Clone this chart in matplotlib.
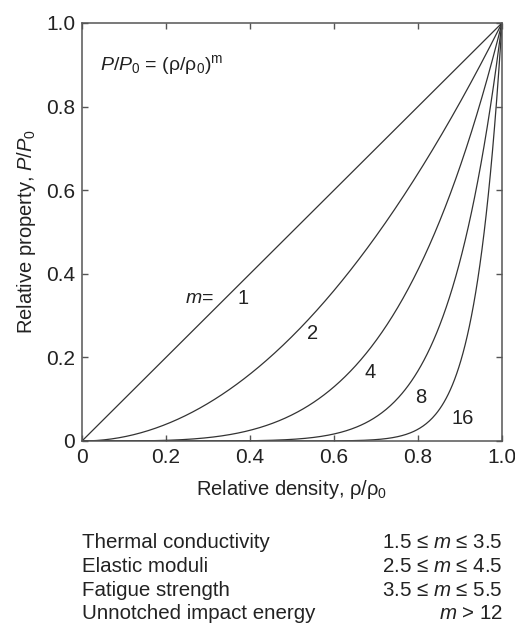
import numpy as np
import matplotlib
matplotlib.use("Agg")
import matplotlib.pyplot as plt

plt.rcParams['font.family'] = ['Liberation Sans', 'DejaVu Sans']
plt.rcParams['mathtext.fontset'] = 'custom'
plt.rcParams['mathtext.rm'] = 'Liberation Sans'
plt.rcParams['mathtext.it'] = 'Liberation Sans:italic'

# exponents m of P/P0 = (rho/rho0)^m
exponents = [1, 2, 4, 8, 16]
curve_labels = ['1', '2', '4', '8', '16']
ticks = [0, 0.2, 0.4, 0.6, 0.8, 1.0]
tick_labels = ['0', '0.2', '0.4', '0.6', '0.8', '1.0']

properties = ['Thermal conductivity', 'Elastic moduli', 'Fatigue strength',
              'Unnotched impact energy']
m_ranges = [r'1.5 ≤ $\it{m}$ ≤ 3.5', r'2.5 ≤ $\it{m}$ ≤ 4.5',
            r'3.5 ≤ $\it{m}$ ≤ 5.5', r'$\it{m}$ > 12']

ink = '#222222'
line_col = '#333333'

fig = plt.figure(figsize=(5.15, 6.3), dpi=100)
ax = fig.add_axes([0.1592, 0.3, 0.8155, 0.6635])

x = np.linspace(0, 1, 400)
for m in exponents:
    ax.plot(x, x ** m, color=line_col, lw=0.9)

# curve labels (placed by eye)
label_pos = [(0.383, 0.34), (0.548, 0.258), (0.686, 0.165), (0.807, 0.105), (0.907, 0.055)]
for (lx, ly), s in zip(label_pos, curve_labels):
    ax.text(lx, ly, s, fontsize=14.5, color=ink, ha='center', va='center')
ax.text(0.313, 0.34, r'$\it{m}$=', fontsize=14, color=ink, ha='right', va='center')

ax.text(0.043, 0.90, r'$\it{P}/\it{P}_{0}$ = (ρ/ρ$_{0}$)$^{\rm m}$', fontsize=14,
        color=ink, ha='left', va='center')

ax.set_xlim(0, 1)
ax.set_ylim(0, 1)
ax.set_xticks(ticks)
ax.set_xticklabels(tick_labels)
ax.set_yticks(ticks)
ax.set_yticklabels(tick_labels)
ax.tick_params(direction='in', length=4, width=1, colors='#555555', labelcolor=ink,
               labelsize=15, top=True, right=True, pad=5)
for sp in ax.spines.values():
    sp.set_color('#555555')
    sp.set_linewidth(1.1)

ax.set_xlabel('Relative density, ρ/ρ$_{0}$', fontsize=14.5, color=ink, labelpad=8)
ax.set_ylabel(r'Relative property, $\it{P}/\it{P}_{0}$', fontsize=14.5, color=ink, labelpad=6)

# table of exponents under the chart
row_y = [543, 566.5, 590, 613.5]
for yy, name, rng in zip(row_y, properties, m_ranges):
    fig.text(82 / 515, 1 - yy / 630, name, fontsize=14.8, color=ink, ha='left', va='center')
    fig.text(503 / 515, 1 - yy / 630, rng, fontsize=14.8, color=ink, ha='right', va='center')

fig.savefig('out.png', dpi=100)
